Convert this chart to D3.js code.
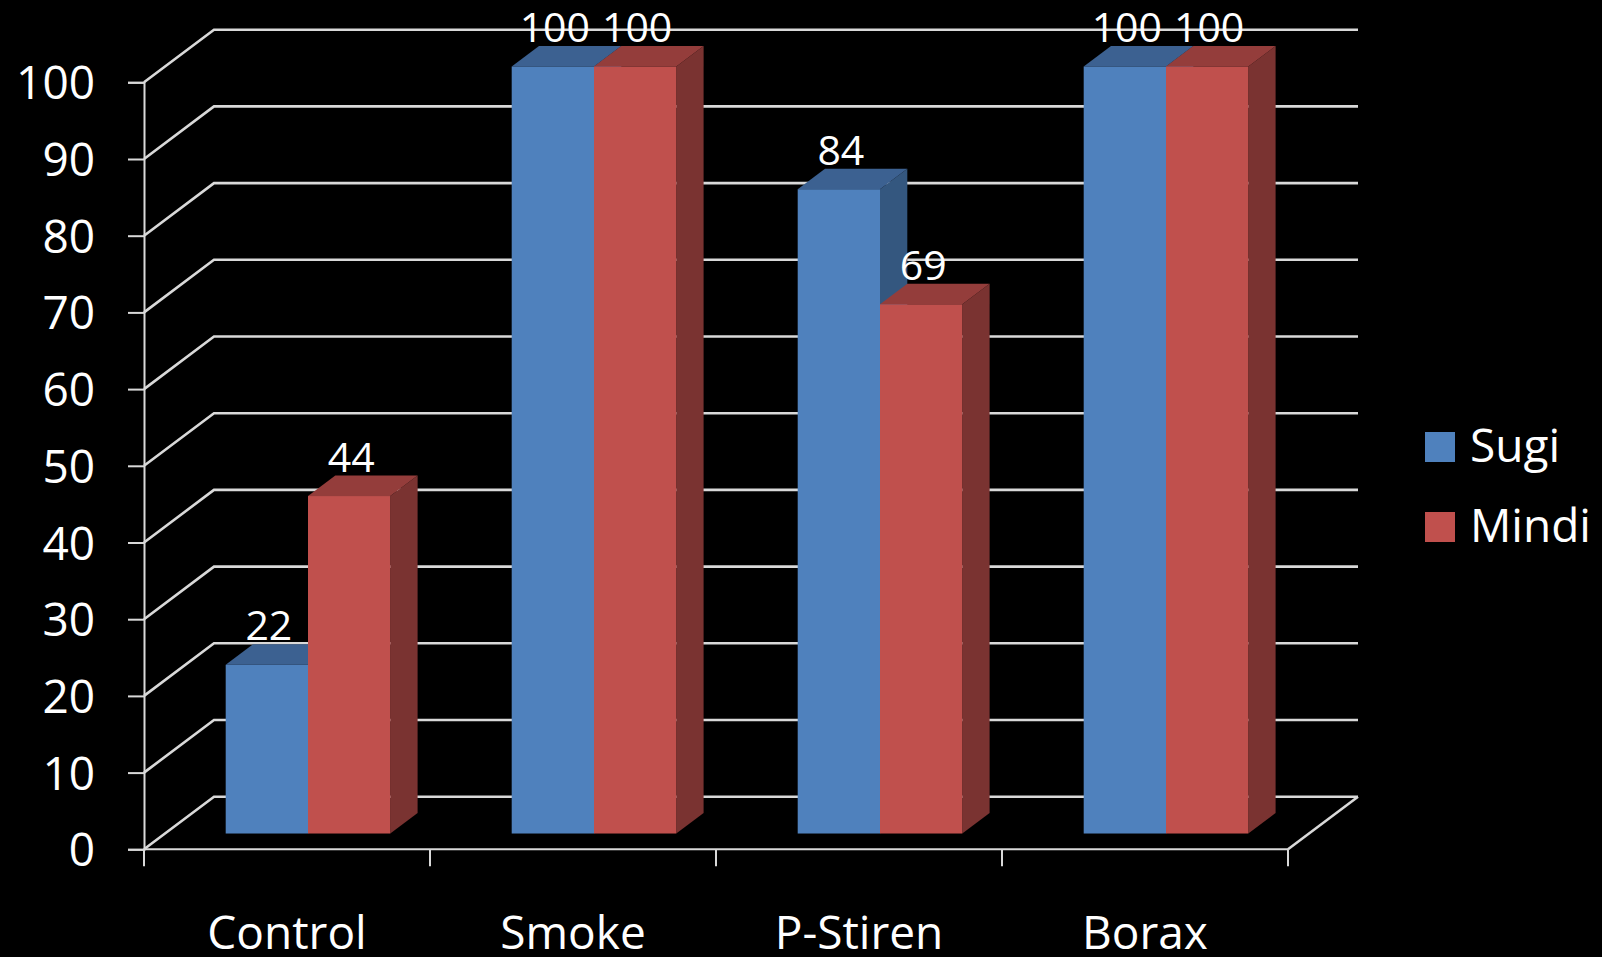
<!DOCTYPE html>
<html>
    <head>
        <meta charset="utf-8" />
        <title>Sugi / Mindi</title>
        <script src="https://d3js.org/d3.v7.min.js"></script>
        <style>
            * {
                font-family: 'Open Sans', sans-serif;
            }
            body {
                margin: 0;
                background: #000;
            }
            .grid {
                stroke: #d9d9d9;
                stroke-width: 2.6px;
                fill: none;
            }
            .axis path,
            .axis line {
                stroke: #d9d9d9;
                stroke-width: 2px;
            }
            .axis text {
                fill: #fff;
                font-size: 46px;
            }
            .label {
                fill: #fff;
                font-size: 41px;
                text-anchor: middle;
            }
        </style>
    </head>
    <body>
        <script>
            const categories = ['Control', 'Smoke', 'P-Stiren', 'Borax'];
            const seriesNames = ['Sugi', 'Mindi'];
            const sugi = [22, 100, 84, 100];
            const mindi = [44, 100, 69, 100];
            const yTicks = [0, 10, 20, 30, 40, 50, 60, 70, 80, 90, 100];

            const colors = {
                Sugi: { front: '#4f81bd', top: '#3c6191', side: '#34577f' },
                Mindi: { front: '#c0504d', top: '#943d3b', side: '#7a3331' }
            };

            const width = 1602,
                height = 957;
            // depth of the 3d box (back wall offset)
            const depth = { dx: 70, dy: -52.6 };
            const barFront = 0.3,
                barBack = 0.69;

            const svg = d3.select('body').append('svg').attr('width', width).attr('height', height);

            const y = d3.scaleLinear().domain([0, 100]).range([849.3, 82.3]);
            const x = d3.scaleBand().domain(categories).range([144, 1288]);
            const xs = d3
                .scaleBand()
                .domain(seriesNames)
                .range([(x.bandwidth() - 164.6) / 2, (x.bandwidth() + 164.6) / 2]);

            const x0 = x.range()[0],
                x1 = x.range()[1];

            // left wall and back wall gridlines
            yTicks.forEach((v) => {
                svg.append('path')
                    .attr('class', 'grid')
                    .attr(
                        'd',
                        `M${x0},${y(v)} L${x0 + depth.dx},${y(v) + depth.dy} L${x1 + depth.dx},${y(v) + depth.dy}`
                    );
            });
            // right floor edge
            svg.append('path')
                .attr('class', 'grid')
                .attr('d', `M${x1},${y(0)} L${x1 + depth.dx},${y(0) + depth.dy}`);

            // y axis
            const yAxis = svg
                .append('g')
                .attr('class', 'axis')
                .attr('transform', `translate(${x0},0)`)
                .call(d3.axisLeft(y).tickValues(yTicks).tickSize(16).tickPadding(33));
            yAxis.selectAll('text').attr('dy', '0.36em');

            // floor front line + category ticks
            svg.append('line')
                .attr('class', 'grid')
                .style('stroke-width', '2px')
                .attr('x1', x0)
                .attr('x2', x1)
                .attr('y1', y(0))
                .attr('y2', y(0));
            const bounds = categories.map((c) => x(c)).concat([x1]);
            bounds.forEach((b) => {
                svg.append('line')
                    .attr('class', 'grid')
                    .style('stroke-width', '2px')
                    .attr('x1', b)
                    .attr('x2', b)
                    .attr('y1', y(0))
                    .attr('y2', y(0) + 17);
            });

            const xAxis = svg
                .append('g')
                .attr('class', 'axis')
                .attr('transform', `translate(0,${y(0)})`)
                .call(d3.axisBottom(x).tickSize(0).tickPadding(100));
            xAxis.select('.domain').remove();
            xAxis.selectAll('text').attr('dy', '0');

            // bars
            const fx = barFront * depth.dx,
                fy = barFront * depth.dy;
            const bx = (barBack - barFront) * depth.dx,
                by = (barBack - barFront) * depth.dy;

            categories.forEach((cat, i) => {
                [sugi[i], mindi[i]].forEach((val, j) => {
                    const s = seriesNames[j];
                    const c = colors[s];
                    const left = x(cat) + xs(s) + fx;
                    const right = left + xs.bandwidth();
                    const top = y(val) + fy;
                    const bottom = y(0) + fy;
                    const g = svg.append('g');
                    // side
                    g.append('path')
                        .attr('fill', c.side)
                        .attr(
                            'd',
                            `M${right},${bottom} L${right + bx},${bottom + by} L${right + bx},${top + by} L${right},${top} Z`
                        );
                    // top
                    g.append('path')
                        .attr('fill', c.top)
                        .attr(
                            'd',
                            `M${left},${top} L${left + bx},${top + by} L${right + bx},${top + by} L${right},${top} Z`
                        );
                    // front
                    g.append('rect')
                        .attr('fill', c.front)
                        .attr('x', left)
                        .attr('y', top)
                        .attr('width', xs.bandwidth())
                        .attr('height', bottom - top);
                    // value label
                    g.append('text')
                        .attr('class', 'label')
                        .attr('x', (left + right) / 2 + 2)
                        .attr('y', top + by - 4)
                        .text(val);
                });
            });

            // legend
            const legend = svg.append('g').attr('transform', 'translate(1425,432)');
            seriesNames.forEach((s, i) => {
                const row = legend.append('g').attr('transform', `translate(0,${i * 80})`);
                row.append('rect').attr('width', 30).attr('height', 30).attr('fill', colors[s].front);
                row.append('text')
                    .attr('x', 45)
                    .attr('y', 30)
                    .attr('fill', '#fff')
                    .style('font-size', '46px')
                    .text(s);
            });
        </script>
    </body>
</html>
